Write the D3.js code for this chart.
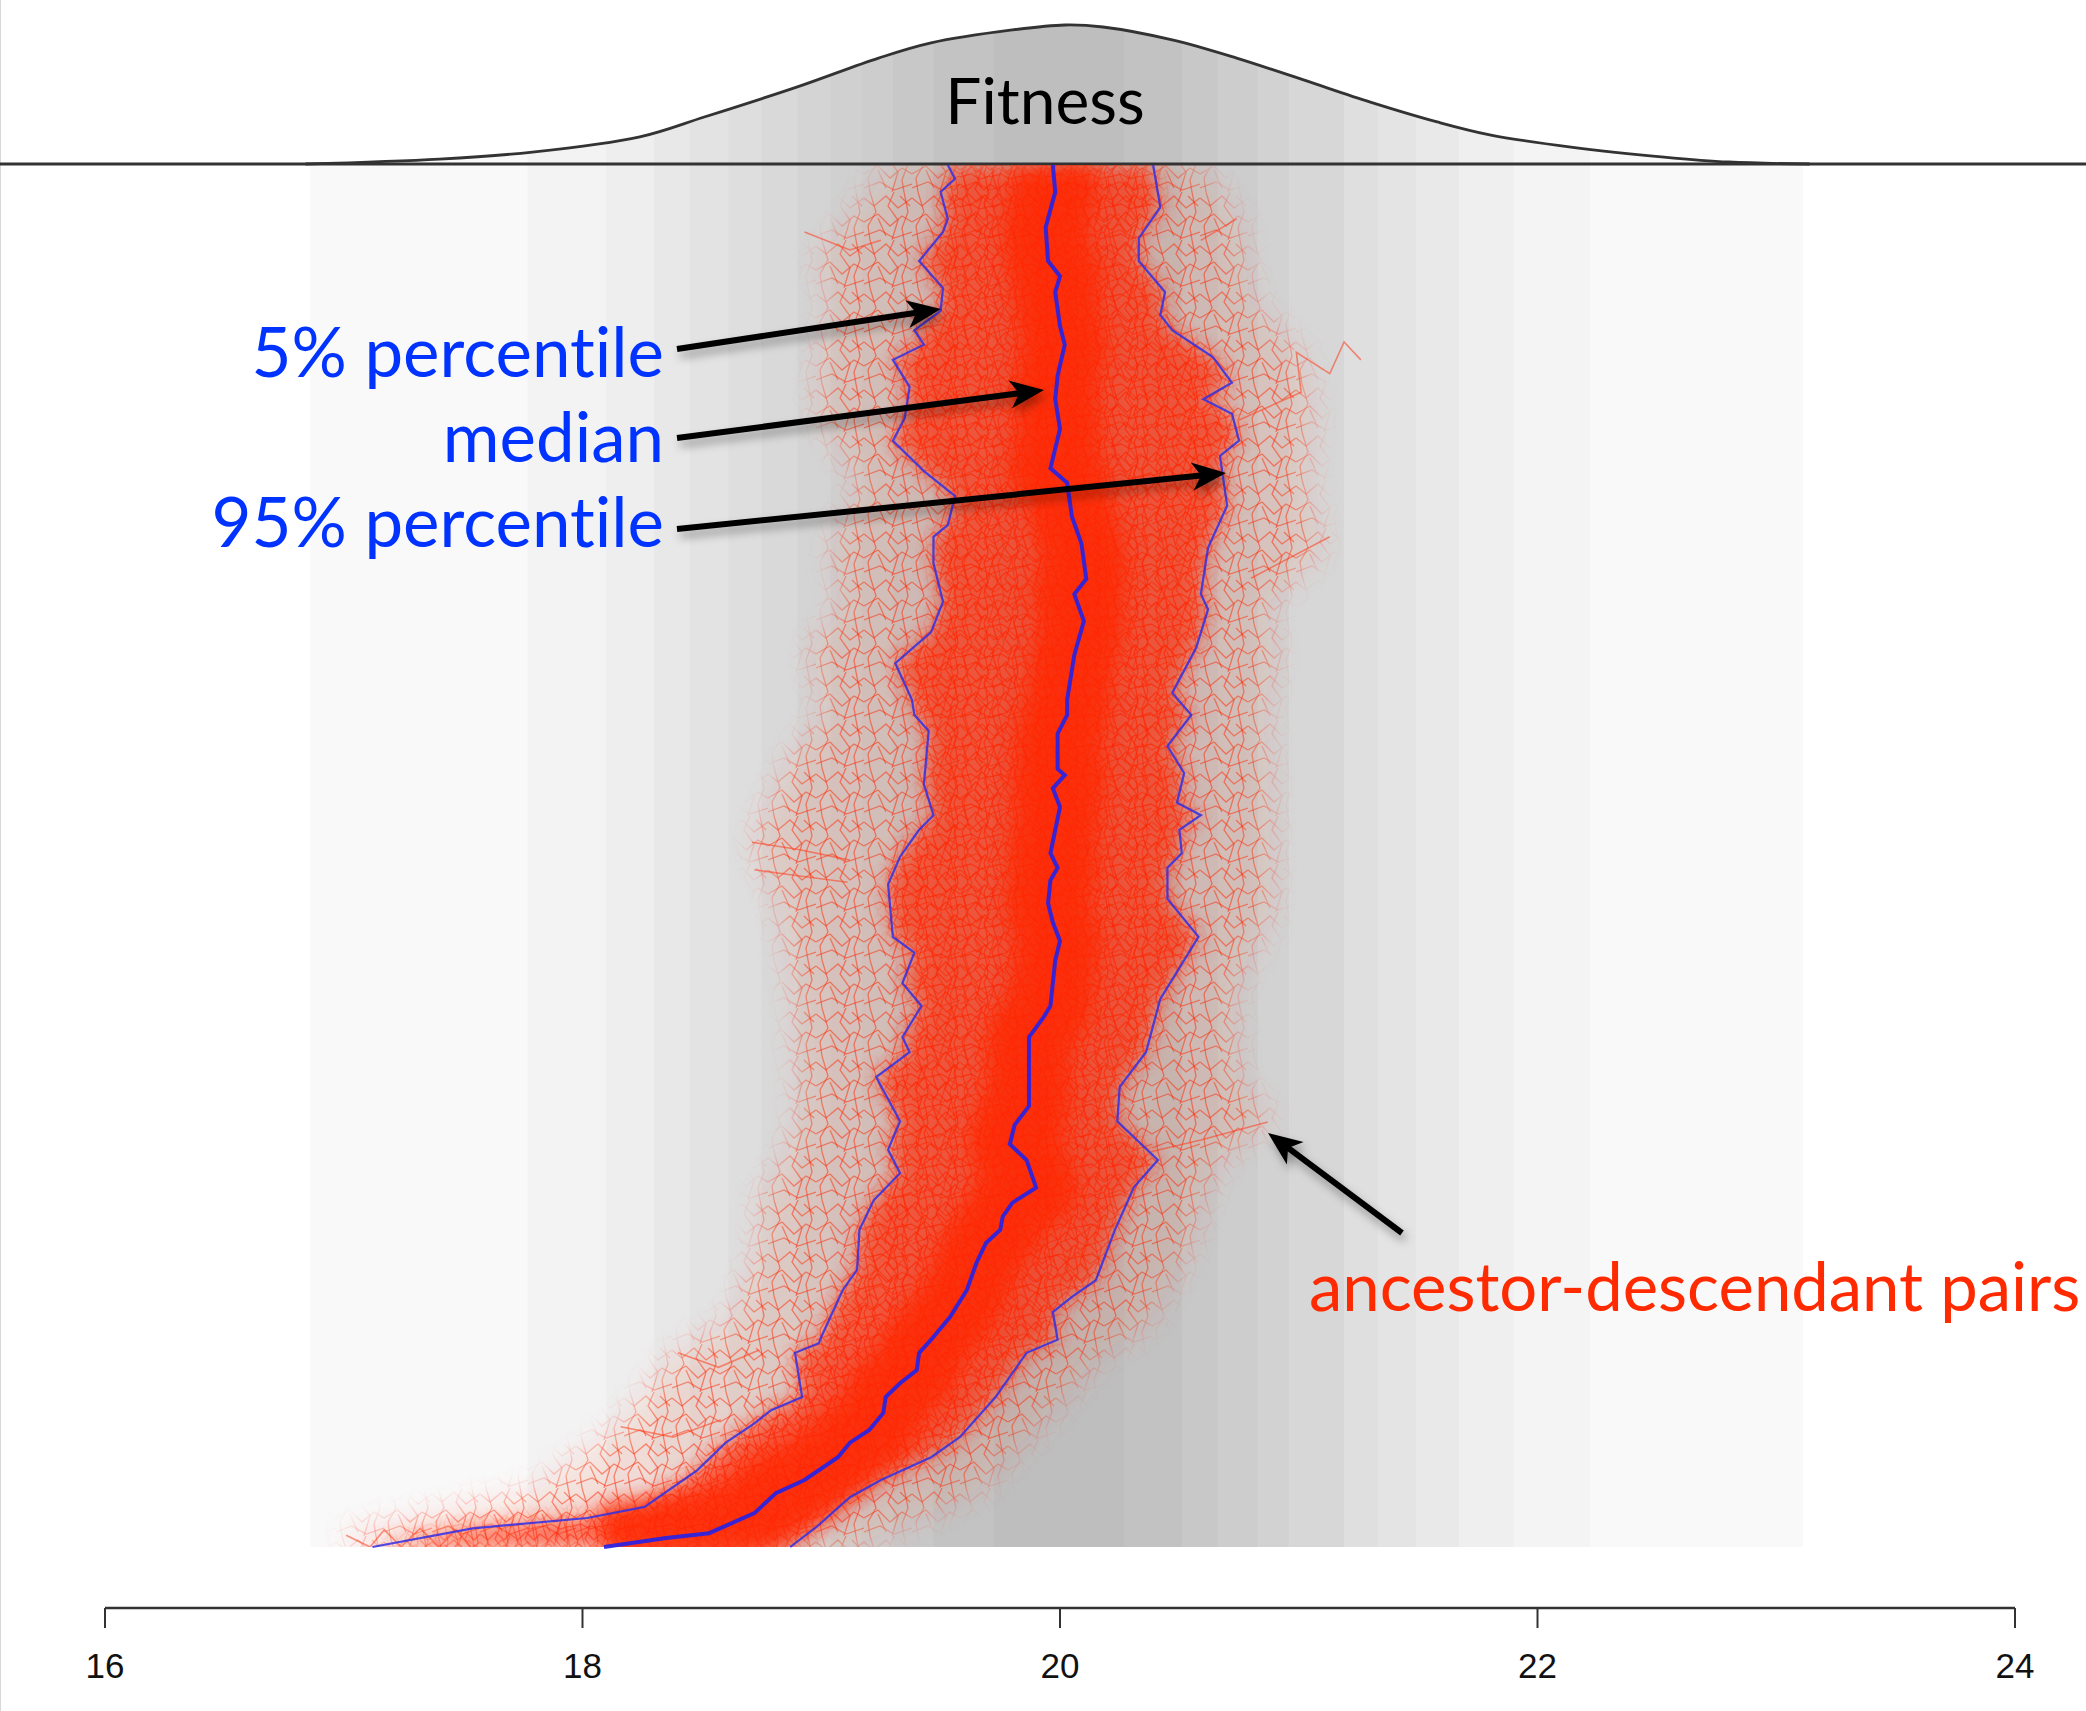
<!DOCTYPE html>
<html>
<head>
<meta charset="utf-8">
<script src="https://cdn.jsdelivr.net/npm/d3@7"></script>
<style>
  body { margin: 0; background: #fff; }
  svg { display: block; }
  text { font-variant-ligatures: none; }
</style>
</head>
<body>
<svg id="chart" width="2086" height="1711"></svg>
<script>
// ---- data ----------------------------------------------------------
// x axis
const fitTicks = [16, 18, 20, 22, 24];

// grey shading bands (fitness bin edges and grey level of each bin)
const bandBreaks = [16.86, 17.77, 18.10, 18.30, 18.45, 18.61, 18.75, 18.90, 19.04, 19.17, 19.30,
  19.47, 19.72, 20.27, 20.51, 20.66, 20.83, 20.96, 21.19, 21.33, 21.49, 21.67, 21.90, 22.22, 23.11];
const bandGrey = [249, 243, 238, 232, 227, 222, 217, 212, 208, 205, 200, 195,
  190, 194, 200, 205, 210, 215, 223, 228, 233, 239, 244, 249];

// fitness density of the final population (top curve)
const densFit = [16.84, 17.40, 17.79, 18.24, 18.51, 18.90, 19.24, 19.46, 19.80, 20.02, 20.18,
  20.47, 20.74, 21.02, 21.30, 21.58, 21.80, 22.14, 22.53, 22.80, 23.14];
const densVal = [0, 0.015, 0.036, 0.082, 0.142, 0.233, 0.320, 0.366, 0.405, 0.420, 0.414,
  0.375, 0.320, 0.254, 0.187, 0.127, 0.088, 0.051, 0.021, 0.006, 0];

// median fitness per generation
const medGen = [0, 1.3, 2.0, 4.9, 7.8, 9.7, 13.0, 15.1, 16.9, 19.4, 21.7, 23.7, 25.6, 28.1, 30.0,
  33.3, 37.2, 41.1, 44.0, 45.9, 47.8, 49.8, 52.0, 56.0, 58.3, 61.1, 63.8, 69.5, 73.8, 76.6, 78.3,
  84.9, 87.7, 90.4, 93.2, 96.5, 98.3, 100.4, 107.1, 109.8, 111.7, 112.6, 117.7, 120.4, 122.6,
  129.1, 134.0, 137.9, 140.1, 145.2, 149.1, 154.0, 156.1, 161.8, 166.1, 169.5, 174.0, 176.7,
  181.6, 183.9, 186.1, 191.0, 196.1, 200];
const medFit = [18.09, 18.35, 18.53, 18.72, 18.81, 18.93, 19.07, 19.12, 19.20, 19.26, 19.27, 19.33,
  19.40, 19.41, 19.46, 19.54, 19.61, 19.65, 19.69, 19.75, 19.76, 19.80, 19.90, 19.86, 19.79, 19.81,
  19.87, 19.87, 19.87, 19.93, 19.96, 19.98, 20.00, 19.97, 19.95, 19.96, 19.99, 19.96, 20.00, 19.97,
  20.02, 19.99, 19.99, 20.03, 20.03, 20.06, 20.10, 20.06, 20.11, 20.09, 20.05, 20.03, 19.96, 20.00,
  19.98, 19.99, 20.02, 20.00, 19.98, 20.00, 19.95, 19.94, 19.98, 19.97];

// 5% percentile
const p5Gen = [0, 2.7, 4.2, 5.8, 11.1, 15.1, 17.9, 19.8, 21.7, 28.1, 29.5, 30.4, 37.2, 40.1, 45.9,
  50.2, 54.1, 57.5, 61.6, 68.0, 71.6, 73.8, 78.3, 81.6, 86.0, 88.3, 95.9, 99.9, 103.8, 105.9, 110.4,
  118.1, 120.4, 122.6, 127.9, 132.4, 136.8, 142.4, 146.2, 147.9, 152.1, 155.7, 160.1, 163.4, 167.9,
  171.8, 174.0, 176.1, 178.9, 182.2, 186.1, 190.3, 192.2, 196.1, 198.0, 200];
const p5Fit = [17.12, 17.54, 18.02, 18.26, 18.48, 18.60, 18.72, 18.79, 18.92, 18.89, 18.99, 19.00,
  19.09, 19.15, 19.16, 19.22, 19.33, 19.28, 19.33, 19.23, 19.37, 19.34, 19.42, 19.34, 19.39, 19.30,
  19.28, 19.33, 19.41, 19.47, 19.43, 19.45, 19.39, 19.38, 19.31, 19.46, 19.51, 19.47, 19.47, 19.53,
  19.56, 19.43, 19.30, 19.35, 19.37, 19.30, 19.43, 19.39, 19.50, 19.51, 19.41, 19.51, 19.53, 19.50,
  19.56, 19.53];

// 95% percentile
const p95Gen = [0, 2.9, 7.2, 9.7, 13.0, 15.9, 21.7, 28.1, 30.0, 34.0, 36.2, 38.6, 45.9, 52.1, 56.0,
  61.6, 66.6, 71.6, 79.3, 88.3, 93.8, 98.3, 100.4, 103.8, 105.9, 107.7, 112.0, 115.9, 120.4, 123.6,
  130.1, 135.7, 137.9, 144.6, 150.7, 157.9, 160.1, 164.0, 166.1, 168.5, 172.2, 176.1, 178.3, 181.6,
  186.1, 189.4, 193.9, 200];
const p95Fit = [18.87, 18.98, 19.12, 19.25, 19.46, 19.58, 19.73, 19.86, 19.99, 19.97, 20.05, 20.15,
  20.23, 20.31, 20.41, 20.24, 20.25, 20.36, 20.42, 20.58, 20.45, 20.45, 20.51, 20.50, 20.59, 20.49,
  20.52, 20.45, 20.55, 20.47, 20.57, 20.62, 20.59, 20.62, 20.70, 20.67, 20.75, 20.72, 20.60, 20.72,
  20.64, 20.47, 20.42, 20.44, 20.33, 20.33, 20.42, 20.39];

// outer extent of the ancestor-descendant pairs
const envGen = [0, 2.0, 8.0, 17.4, 28.1, 32.4, 37.2, 44.0, 50.1, 56.2, 61.9, 67.7, 79.9, 92.6,
  102.0, 113.7, 120.3, 130.1, 135.7, 144.6, 153.4, 164.5, 172.2, 180.0, 186.3, 192.2, 200];
const envLo = [17.01, 17.01, 17.80, 18.16, 18.40, 18.62, 18.68, 18.75, 18.75, 18.85, 18.91, 18.91,
  18.89, 18.83, 18.72, 18.87, 19.02, 18.96, 19.09, 19.05, 19.17, 18.99, 19.00, 19.05, 18.99, 19.13, 19.30];
const envHi = [19.12, 19.25, 19.64, 19.90, 20.17, 20.36, 20.44, 20.54, 20.59, 20.66, 20.88, 20.74,
  20.72, 20.88, 20.88, 20.87, 20.85, 20.90, 20.85, 21.09, 21.03, 21.05, 21.01, 20.80, 20.77, 20.74, 20.57];

// a few stray ancestor-descendant paths, [fitness, generation]
const strays = [
  [[20.38, 57.2], [20.59, 58.9], [20.87, 61.5]],
  [[20.75, 163.1], [21.01, 167.1], [20.99, 172.9], [21.13, 169.8], [21.19, 174.4], [21.26, 171.8]],
  [[20.80, 140.2], [21.13, 146.2]],
  [[18.71, 102.0], [18.91, 100.9], [19.12, 99.4]],
  [[18.72, 98.0], [18.91, 97.1], [19.11, 96.2]],
  [[17.01, 1.7], [17.11, 0], [17.17, 2.5], [17.24, 0], [17.32, 2.7], [17.40, 0], [17.47, 2.5], [17.53, 0]],
  [[18.40, 28.1], [18.57, 26.0], [18.74, 28.5]],
  [[18.16, 17.4], [18.38, 15.9], [18.58, 18.4]],
  [[18.93, 190.3], [19.12, 187.7], [19.25, 189.1]],
  [[20.74, 192.2], [20.59, 189.1]]
];

// ---- scales --------------------------------------------------------
const svg = d3.select("#chart");
const x = d3.scaleLinear().domain([16, 24]).range([105, 2015]);
const y = d3.scaleLinear().domain([0, 200]).range([1547, 165]);
const yd = d3.scaleLinear().domain([0, 0.42]).range([164, 25]);

const plotTop = y(200), plotBottom = y(0);
const RED = "#ff2400";

const defs = svg.append("defs");
const dens = densFit.map((f, i) => ({f: f, v: densVal[i]}));
const densArea = d3.area().x(d => x(d.f)).y0(yd(0)).y1(d => yd(d.v)).curve(d3.curveCatmullRom);
const densLine = d3.line().x(d => x(d.f)).y(d => yd(d.v)).curve(d3.curveCatmullRom);

defs.append("clipPath").attr("id", "densClip").append("path").attr("d", densArea(dens));
defs.append("clipPath").attr("id", "plotClip").append("rect")
  .attr("x", 0).attr("y", plotTop).attr("width", 2086).attr("height", plotBottom - plotTop);

function blur(id, sd) {
  defs.append("filter").attr("id", id).attr("x", "-20%").attr("y", "-20%")
    .attr("width", "140%").attr("height", "140%")
    .append("feGaussianBlur").attr("stdDeviation", sd);
}
blur("soft", 10);
blur("softer", 14);

// irregular criss-cross tiles that mimic the mesh of overlapping pair segments
function meshPattern(id, size, strokes, opacity, width) {
  let p = defs.append("pattern").attr("id", id)
    .attr("patternUnits", "userSpaceOnUse")
    .attr("width", size).attr("height", size);
  p.selectAll("path").data(strokes).enter().append("path")
    .attr("d", d => d)
    .attr("fill", "none")
    .attr("stroke", RED).attr("stroke-opacity", opacity).attr("stroke-width", width);
}
meshPattern("meshOuter", 48, [
  "M0,6L10,14L22,4L34,16L48,6",
  "M0,30L14,22L26,34L38,24L48,30",
  "M6,0L12,20L4,34L6,48",
  "M30,0L24,14L34,28L28,48",
  "M0,44L16,38L30,46L48,40",
  "M40,0L44,20L38,36L40,48",
  "M14,26L22,44", "M36,4L46,14"
], 0.5, 1.3);
meshPattern("meshInner", 30, [
  "M0,4L8,10L16,2L24,10L30,4",
  "M0,20L9,14L17,22L25,15L30,20",
  "M4,0L8,12L2,22L4,30",
  "M19,0L15,9L22,18L18,30",
  "M0,27L11,24L20,29L30,26",
  "M26,0L28,13L24,23L26,30"
], 0.65, 1.3);

// soft-edged masks so the texture fades out like the original cloud
function softMask(id, d, filterId) {
  defs.append("mask").attr("id", id)
    .attr("maskUnits", "userSpaceOnUse")
    .attr("x", 0).attr("y", 0).attr("width", 2086).attr("height", 1711)
    .append("path").attr("d", d).attr("fill", "#fff").attr("filter", "url(#" + filterId + ")");
}

const shadow = defs.append("filter").attr("id", "shadow")
  .attr("x", "-30%").attr("y", "-30%").attr("width", "160%").attr("height", "160%");
shadow.append("feDropShadow").attr("dx", 3).attr("dy", 6).attr("stdDeviation", 5)
  .attr("flood-color", "#000").attr("flood-opacity", 0.35);

// left border line
svg.append("line").attr("x1", 0.5).attr("x2", 0.5).attr("y1", 0).attr("y2", 1711)
  .attr("stroke", "#d8d8d8").attr("stroke-width", 1);

// ---- background bands ----------------------------------------------
const bandIdx = d3.range(bandGrey.length);
svg.append("g").selectAll("rect")
  .data(bandIdx)
  .enter().append("rect")
  .attr("x", i => x(bandBreaks[i]))
  .attr("width", i => x(bandBreaks[i + 1]) - x(bandBreaks[i]) + 0.5)
  .attr("y", plotTop)
  .attr("height", plotBottom - plotTop)
  .attr("fill", i => d3.rgb(bandGrey[i], bandGrey[i], bandGrey[i]));

// ---- density at the top --------------------------------------------
svg.append("g").attr("clip-path", "url(#densClip)")
  .selectAll("rect")
  .data(bandIdx)
  .enter().append("rect")
  .attr("x", i => x(bandBreaks[i]))
  .attr("width", i => x(bandBreaks[i + 1]) - x(bandBreaks[i]) + 0.5)
  .attr("y", 0)
  .attr("height", yd(0))
  .attr("fill", i => d3.rgb(bandGrey[i], bandGrey[i], bandGrey[i]));

svg.append("path").attr("d", densLine(dens))
  .attr("fill", "none").attr("stroke", "#333").attr("stroke-width", 2.8);

svg.append("line").attr("x1", 0).attr("x2", 2086).attr("y1", yd(0)).attr("y2", yd(0))
  .attr("stroke", "#333").attr("stroke-width", 3);

svg.append("text").attr("x", 1045).attr("y", 124)
  .attr("text-anchor", "middle")
  .style("font-family", "Lato, 'Open Sans', sans-serif")
  .style("font-size", "64px")
  .attr("fill", "#000")
  .text("Fitness");

// ---- red cloud of ancestor-descendant pairs --------------------------
const red = svg.append("g").attr("clip-path", "url(#plotClip)");
const env = envGen.map((g, i) => ({g: g, lo: envLo[i], hi: envHi[i]}));
const envArea = d3.area().y(d => y(d.g)).x0(d => x(d.lo)).x1(d => x(d.hi));

const p5 = p5Gen.map((g, i) => [p5Fit[i], g]);
const p95 = p95Gen.map((g, i) => [p95Fit[i], g]);
const med = medGen.map((g, i) => [medFit[i], g]);
const pLine = d3.line().x(d => x(d[0])).y(d => y(d[1]));
const bandPath = pLine(p5.concat(p95.slice().reverse())) + "Z";

softMask("envMask", envArea(env), "softer");
softMask("bandMask", bandPath, "soft");

red.append("path").attr("d", envArea(env))
  .attr("fill", RED).attr("fill-opacity", 0.1)
  .attr("filter", "url(#softer)");
red.append("rect")
  .attr("x", 0).attr("y", plotTop).attr("width", 2086).attr("height", plotBottom - plotTop)
  .attr("fill", "url(#meshOuter)").attr("mask", "url(#envMask)");

red.append("path").attr("d", bandPath)
  .attr("fill", RED).attr("fill-opacity", 0.66)
  .attr("filter", "url(#soft)");
red.append("rect")
  .attr("x", 0).attr("y", plotTop).attr("width", 2086).attr("height", plotBottom - plotTop)
  .attr("fill", "url(#meshInner)").attr("mask", "url(#bandMask)");

red.append("path").attr("d", pLine(med))
  .attr("fill", "none").attr("stroke", RED).attr("stroke-opacity", 0.8)
  .attr("stroke-width", 84).attr("stroke-linejoin", "round")
  .attr("filter", "url(#soft)");

red.append("g").selectAll("path")
  .data(strays)
  .enter().append("path")
  .attr("d", pLine)
  .attr("fill", "none").attr("stroke", "#ff3a1a").attr("stroke-opacity", 0.55)
  .attr("stroke-width", 1.6);

// ---- blue percentile lines -------------------------------------------
svg.append("path").attr("d", pLine(p5))
  .attr("fill", "none").attr("stroke", "#2f2fe6").attr("stroke-width", 2.2).attr("stroke-opacity", 0.85);
svg.append("path").attr("d", pLine(p95))
  .attr("fill", "none").attr("stroke", "#2f2fe6").attr("stroke-width", 2.2).attr("stroke-opacity", 0.85);
svg.append("path").attr("d", pLine(med))
  .attr("fill", "none").attr("stroke", "#2222ea").attr("stroke-width", 4).attr("stroke-opacity", 0.9);

// ---- labels and arrows -----------------------------------------------
const labelFont = "Lato, 'Open Sans', sans-serif";
const blueLabels = [
  {t: "5% percentile", y: 377},
  {t: "median", y: 462},
  {t: "95% percentile", y: 547}
];
svg.append("g").selectAll("text")
  .data(blueLabels)
  .enter().append("text")
  .attr("x", 664).attr("y", d => d.y)
  .attr("text-anchor", "end")
  .style("font-family", labelFont)
  .style("font-size", "69px")
  .attr("fill", "#0033ff")
  .text(d => d.t);

svg.append("text").attr("x", 1309).attr("y", 1311)
  .style("font-family", labelFont)
  .style("font-size", "67px")
  .attr("fill", "#ff2a00")
  .text("ancestor-descendant pairs");

const arrows = [
  {x1: 677, y1: 349, x2: 941, y2: 309},
  {x1: 677, y1: 438, x2: 1044, y2: 390},
  {x1: 677, y1: 529, x2: 1226, y2: 473},
  {x1: 1402, y1: 1233, x2: 1268, y2: 1133}
];

function arrowPath(d) {
  let dx = d.x2 - d.x1, dy = d.y2 - d.y1,
      len = Math.sqrt(dx * dx + dy * dy),
      ux = dx / len, uy = dy / len,
      px = -uy, py = ux,
      L = 34, hw = 14, notch = 9;
  let bx = d.x2 - L * ux, by = d.y2 - L * uy,
      nx = d.x2 - (L - notch) * ux, ny = d.y2 - (L - notch) * uy;
  return {
    shaft: "M" + d.x1 + "," + d.y1 + "L" + nx + "," + ny,
    head: "M" + d.x2 + "," + d.y2 +
      "L" + (bx + hw * px) + "," + (by + hw * py) +
      "L" + nx + "," + ny +
      "L" + (bx - hw * px) + "," + (by - hw * py) + "Z"
  };
}

const arrowG = svg.append("g").attr("filter", "url(#shadow)");
arrows.forEach(function(d) {
  let p = arrowPath(d);
  arrowG.append("path").attr("d", p.shaft)
    .attr("stroke", "#000").attr("stroke-width", 6).attr("fill", "none");
  arrowG.append("path").attr("d", p.head).attr("fill", "#000");
});

// ---- x axis ----------------------------------------------------------
const axisY = 1608;
const axis = svg.append("g").attr("transform", "translate(0," + axisY + ")");
axis.append("line").attr("x1", x(16)).attr("x2", x(24))
  .attr("stroke", "#333").attr("stroke-width", 2.5);
axis.selectAll(".tick")
  .data(fitTicks)
  .enter().append("line")
  .attr("class", "tick")
  .attr("x1", d => x(d)).attr("x2", d => x(d))
  .attr("y1", 0).attr("y2", 20)
  .attr("stroke", "#333").attr("stroke-width", 2);
axis.selectAll(".lab")
  .data(fitTicks)
  .enter().append("text")
  .attr("class", "lab")
  .attr("x", d => x(d)).attr("y", 70)
  .attr("text-anchor", "middle")
  .style("font-family", "'Liberation Sans', Arial, sans-serif")
  .style("font-size", "35px")
  .attr("fill", "#111")
  .text(d => d);
</script>
</body>
</html>
